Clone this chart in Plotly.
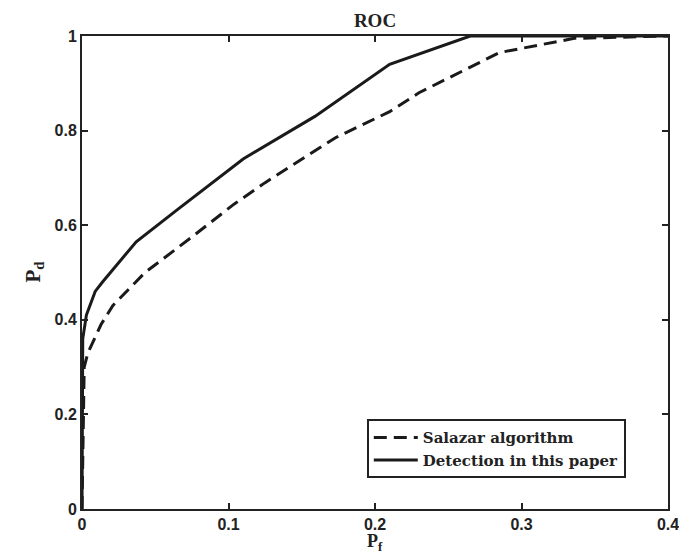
import plotly.graph_objects as go

# ROC curves
pf_salazar = [0, 0.0015, 0.004, 0.013, 0.021, 0.043, 0.075, 0.104, 0.125, 0.173, 0.21, 0.23, 0.285, 0.336, 0.4]
pd_salazar = [0, 0.30, 0.33, 0.39, 0.43, 0.50, 0.575, 0.645, 0.69, 0.785, 0.84, 0.88, 0.965, 0.995, 1.0]

pf_paper = [0, 0.0005, 0.003, 0.009, 0.014, 0.037, 0.066, 0.11, 0.159, 0.21, 0.265, 0.4]
pd_paper = [0, 0.36, 0.41, 0.46, 0.48, 0.565, 0.635, 0.74, 0.83, 0.94, 1.0, 1.0]

x_ticks = [0, 0.1, 0.2, 0.3, 0.4]
y_ticks = [0, 0.2, 0.4, 0.6, 0.8, 1]

serif = "Liberation Serif, Times New Roman, serif"
sans = "Liberation Sans, Arial, sans-serif"

fig = go.Figure()
fig.add_trace(go.Scatter(
    x=pf_salazar, y=pd_salazar, mode="lines", name="<b>Salazar algorithm</b>",
    line=dict(color="#1a1a1a", width=3, dash="13px,7px"),
))
fig.add_trace(go.Scatter(
    x=pf_paper, y=pd_paper, mode="lines", name="<b>Detection in this paper</b>",
    line=dict(color="#1a1a1a", width=3),
))

axis_style = dict(
    showline=True, linecolor="#222", linewidth=2, mirror="ticks",
    ticks="inside", ticklen=6, tickwidth=1.5, tickcolor="#222",
    showgrid=False, zeroline=False, automargin=False,
    tickfont=dict(family=sans, size=16, color="#222"),
)

fig.update_layout(
    width=687, height=552,
    margin=dict(l=74, r=27, t=28, b=51),
    paper_bgcolor="white", plot_bgcolor="white",
    title=dict(text="<b>ROC</b>", x=0.5, xref="paper", xanchor="center",
               y=0.978, yanchor="middle",
               font=dict(family=serif, size=19, color="#222")),
    xaxis=dict(axis_style, range=[0, 0.4], tickvals=x_ticks,
               ticktext=[f"<b>{v:g}</b>" for v in x_ticks]),
    yaxis=dict(axis_style, range=[0, 1], tickvals=y_ticks,
               ticktext=[f"<b>{v:g}</b>" for v in y_ticks]),
    legend=dict(x=0.486, y=0.19, xanchor="left", yanchor="top",
                bordercolor="#222", borderwidth=2, bgcolor="white",
                font=dict(family="DejaVu Serif, serif", size=15, color="#222"),
                tracegroupgap=0, itemwidth=44),
    showlegend=True,
    annotations=[
        dict(text="<b>P<sub>f</sub></b>", xref="paper", yref="paper",
             x=0.5, y=-0.042, xanchor="center", yanchor="top", showarrow=False,
             font=dict(family=serif, size=18, color="#222")),
        dict(text="<b>P<sub>d</sub></b>", xref="paper", yref="paper",
             x=-0.058, y=0.5, xanchor="right", yanchor="middle", showarrow=False,
             textangle=-90, font=dict(family=serif, size=21, color="#222")),
    ],
)

fig.write_html("out.html")
